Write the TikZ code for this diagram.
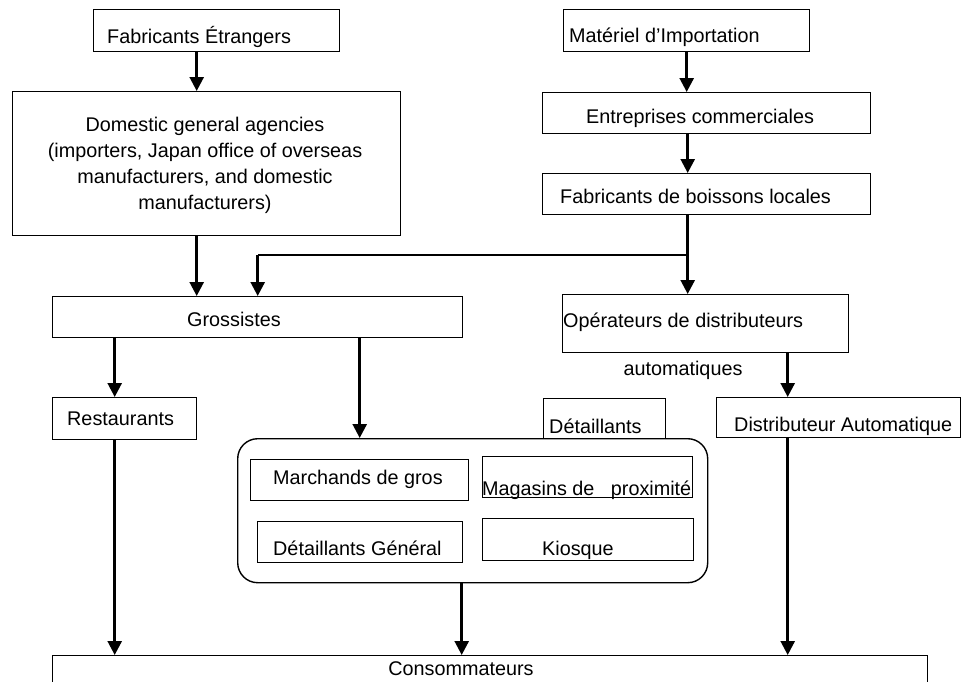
\documentclass[tikz,border=0pt]{standalone}
\usepackage{fontspec}
\setmainfont{Liberation Sans}
\usetikzlibrary{arrows.meta}
\begin{document}
\begin{tikzpicture}[x=1pt,y=-1pt,
  box/.style={draw, line width=1.4pt, inner sep=0pt, anchor=north west},
  txt/.style={inner sep=0pt, font=\fontsize{19.8}{25.7}\selectfont},
  arr/.style={line width=2.6pt, -{Triangle[length=14pt,width=14pt]}},
  link/.style={line width=1.6pt}
  ]
\useasboundingbox (0,0) rectangle (962,681);
% boxes
\node[box, minimum width=246pt, minimum height=42pt] (fe) at (93,9) {};
\node[box, minimum width=388pt, minimum height=144pt] (dom) at (12,91) {};
\node[box, minimum width=246pt, minimum height=42pt] (mi) at (563,9) {};
\node[box, minimum width=328pt, minimum height=41pt] (ec) at (542,92) {};
\node[box, minimum width=328pt, minimum height=41pt] (fb) at (542,173) {};
\node[box, minimum width=410pt, minimum height=41pt] (gro) at (52,296) {};
\node[box, minimum width=286pt, minimum height=58pt] (op) at (562,294) {};
\node[box, minimum width=144pt, minimum height=42pt] (rest) at (52,397) {};
\node[box, minimum width=122pt, minimum height=40pt] (det) at (543,398) {};
\node[box, minimum width=244pt, minimum height=40pt] (da) at (716,397) {};
\node[box, rounded corners=20pt, minimum width=470pt, minimum height=144pt] (ret) at (237,438) {};
\node[box, minimum width=218pt, minimum height=41pt] (mg) at (250,459) {};
\node[box, minimum width=210pt, minimum height=41pt] (mp) at (482,456) {};
\node[box, minimum width=205pt, minimum height=41pt] (dg) at (257,521) {};
\node[box, minimum width=211pt, minimum height=42pt] (ki) at (482,518) {};
\node[box, minimum width=875pt, minimum height=50pt] (cons) at (52,655) {};
% texts
\node[txt, anchor=base west] (tfe) at (107,43) {Fabricants Étrangers};
\node[txt, align=center] (tdom) at (205,165.4) {Domestic general agencies\\(importers, Japan office of overseas\\manufacturers, and domestic\\manufacturers)};
\node[txt, anchor=base west] (tmi) at (569,42) {Matériel d’Importation};
\node[txt, anchor=base west] (tec) at (586,123) {Entreprises commerciales};
\node[txt, anchor=base west] (tfb) at (560,203) {Fabricants de boissons locales};
\node[txt, anchor=base] (tgro) at (234,326) {Grossistes};
\node[txt, anchor=base west] (top) at (563,327) {Opérateurs de distributeurs};
\node[txt, anchor=base] (taut) at (683,375) {automatiques};
\node[txt, anchor=base west] (trest) at (67,425) {Restaurants};
\node[txt, anchor=base west] (tdet) at (549,433) {Détaillants};
\node[txt, anchor=base west] (tda) at (734,431) {Distributeur Automatique};
\node[txt, anchor=base west] (tmg) at (273,484) {Marchands de gros};
\node[txt, anchor=base west] (tmp) at (482,495) {Magasins de\ \ \ proximité};
\node[txt, anchor=base west] (tdg) at (273,555) {Détaillants Général};
\node[txt, anchor=base west] (tki) at (542,555) {Kiosque};
\node[txt, anchor=base] (tcons) at (461,675) {Consommateurs};
% connectors
\draw[arr] ([xshift=-20pt]fe.south) -- ([xshift=-20pt]fe.south |- dom.north);
\draw[arr] (mi.south) -- (mi.south |- ec.north);
\draw[arr] ([xshift=-19pt]ec.south) -- ([xshift=-19pt]ec.south |- fb.north);
\draw[arr] ([xshift=-19pt]fb.south) -- ([xshift=-19pt]fb.south |- op.north);
\coordinate (br) at (687,255);
\draw[link] (br) -- (br -| gro.north);
\draw[arr] (br -| gro.north) -- (gro.north);
\draw[arr] ([xshift=-10pt]dom.south) -- ([xshift=-10pt]dom.south |- gro.north);
\draw[arr] ([xshift=-10pt]rest.north |- gro.south) -- ([xshift=-10pt]rest.north);
\draw[arr] ([xshift=-113pt]ret.north |- gro.south) -- ([xshift=-113pt]ret.north);
\draw[arr] ([xshift=-51pt]da.north |- op.south) -- ([xshift=-51pt]da.north);
\draw[arr] ([xshift=-10pt]rest.south) -- ([xshift=-10pt]rest.south |- cons.north);
\draw[arr] ([xshift=-11pt]ret.south) -- ([xshift=-11pt]ret.south |- cons.north);
\draw[arr] ([xshift=-51pt]da.south) -- ([xshift=-51pt]da.south |- cons.north);
\end{tikzpicture}
\end{document}
